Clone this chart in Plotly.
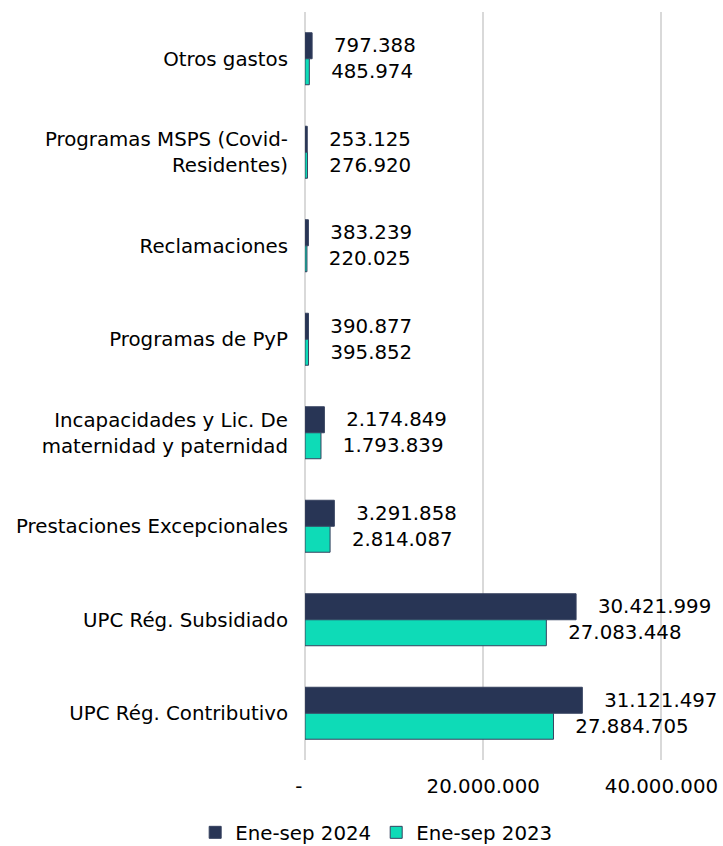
import plotly.graph_objects as go

categories = [
    "Otros gastos",
    "Programas MSPS (Covid-<br>Residentes)",
    "Reclamaciones",
    "Programas de PyP",
    "Incapacidades y Lic. De<br>maternidad y paternidad",
    "Prestaciones Excepcionales",
    "UPC Rég. Subsidiado",
    "UPC Rég. Contributivo",
]
values_2024 = [797388, 253125, 383239, 390877, 2174849, 3291858, 30421999, 31121497]
values_2023 = [485974, 276920, 220025, 395852, 1793839, 2814087, 27083448, 27884705]
series_names = ["Ene-sep 2024", "Ene-sep 2023"]
tick_values = [0, 20000000, 40000000]
tick_labels = ["-\u00a0\u00a0", "20.000.000", "40.000.000"]

FONT = "DejaVu Sans"
FS = 19.8
NAVY = "#283555"
TEAL = "#0edbb7"

fig = go.Figure()
for name, vals, col in [(series_names[0], values_2024, NAVY), (series_names[1], values_2023, TEAL)]:
    fig.add_trace(go.Bar(
        name=name,
        y=categories,
        x=vals,
        orientation="h",
        marker=dict(color=col, line=dict(color="#36425f", width=1)),
        texttemplate="\u00a0\u00a0\u00a0%{x:,.0f}",
        textposition="outside",
        textfont=dict(family=FONT, size=FS, color="#000000"),
        constraintext="none",
        cliponaxis=False,
    ))

fig.update_layout(
    width=723,
    height=846,
    margin=dict(l=305, r=17, t=12, b=86, autoexpand=False),
    paper_bgcolor="white",
    plot_bgcolor="white",
    barmode="group",
    bargap=0.444,
    bargroupgap=0,
    separators=",.",
    font=dict(family=FONT, size=FS, color="#000000"),
    showlegend=True,
    legend=dict(
        orientation="h",
        xref="container", yref="container",
        x=0.521, y=0.016,
        xanchor="center", yanchor="middle",
        font=dict(family=FONT, size=FS, color="#000000"),
        itemwidth=30,
        traceorder="normal",
    ),
    xaxis=dict(
        range=[0, 45000000],
        tickvals=tick_values,
        ticktext=tick_labels,
        showgrid=True,
        gridcolor="#d9d9d9",
        gridwidth=2,
        zeroline=True,
        zerolinecolor="#d9d9d9",
        zerolinewidth=2,
        showline=False,
        ticks="",
        automargin=False,
        ticklabelstandoff=12,
        tickfont=dict(family=FONT, size=FS, color="#000000"),
    ),
    yaxis=dict(
        autorange="reversed",
        categoryorder="array",
        categoryarray=categories,
        showgrid=False,
        zeroline=False,
        showline=False,
        ticks="",
        automargin=False,
        ticklabelstandoff=16,
        tickfont=dict(family=FONT, size=FS, color="#000000"),
    ),
)

fig.write_html(
    "out.html",
    config={"displayModeBar": False},
    post_script="document.body.style.margin='0';document.body.style.overflow='hidden';",
)
